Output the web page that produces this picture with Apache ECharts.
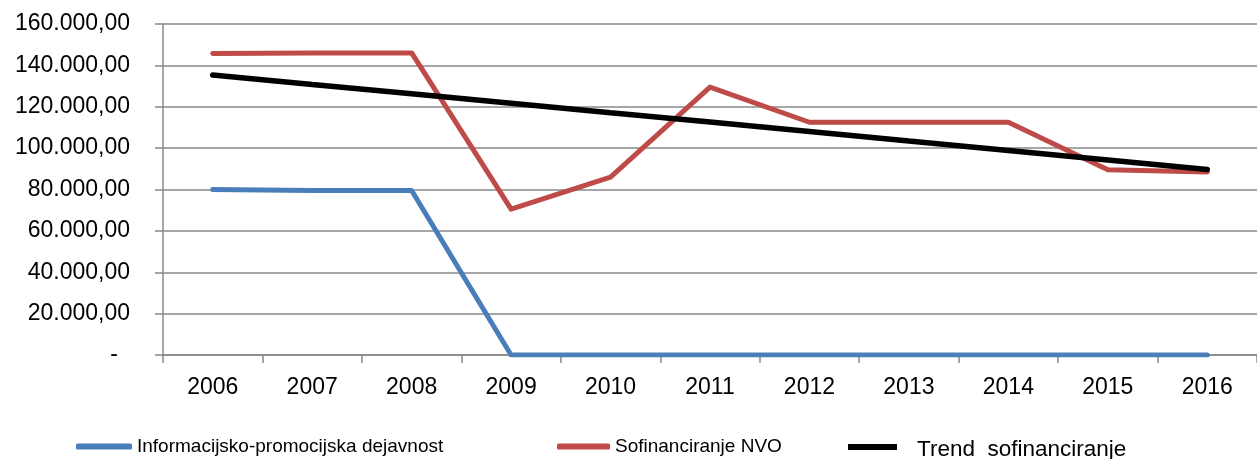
<!DOCTYPE html>
<html>
<head>
<meta charset="utf-8">
<script src="https://cdn.jsdelivr.net/npm/echarts@6/dist/echarts.min.js"></script>
<style>
  html, body { margin: 0; padding: 0; background: #fff; }
  #chart { width: 1257px; height: 459px; }
</style>
</head>
<body>
<div id="chart"></div>
<script>
  // leta
  var years = ['2006', '2007', '2008', '2009', '2010', '2011', '2012', '2013', '2014', '2015', '2016'];
  // Informacijsko-promocijska dejavnost
  var informacijsko = [80000, 79500, 79500, 0, 0, 0, 0, 0, 0, 0, 0];
  // Sofinanciranje NVO
  var sofinanciranje = [145800, 146000, 146000, 70500, 86000, 129500, 112500, 112500, 112500, 89500, 88500];
  // trend (odčitano s slike)
  var trend = [135400, 130800, 126300, 121700, 117100, 112600, 108000, 103400, 98900, 94300, 89700];

  var FONT = 'Liberation Sans';
  var GRAY = '#888888';

  function fmtValue(v) {
    if (v === 0) return '{dash|-}';
    var s = String(Math.round(v));
    s = s.replace(/\B(?=(\d{3})+(?!\d))/g, '.');
    return s + ',00';
  }

  var chart = echarts.init(document.getElementById('chart'));

  var legendBase = {
    orient: 'horizontal',
    top: 437,
    padding: 0,
    icon: 'roundRect',
    itemHeight: 6,
    itemGap: 0,
    textStyle: { fontFamily: FONT, fontSize: 19, color: '#000' }
  };

  var option = {
    animation: false,
    grid: { left: 163, right: 0, top: 24, bottom: 104, containLabel: false },
    legend: [
      Object.assign({}, legendBase, {
        left: 76, itemWidth: 56,
        data: ['Informacijsko-promocijska dejavnost']
      }),
      Object.assign({}, legendBase, {
        left: 557, itemWidth: 53,
        data: ['Sofinanciranje NVO']
      }),
      // trend: znak legende in napis posebej (napis je nižje)
      Object.assign({}, legendBase, {
        left: 848, top: 444, itemWidth: 49, icon: 'rect',
        formatter: function () { return ''; },
        data: ['Trend  sofinanciranje']
      }),
      Object.assign({}, legendBase, {
        left: 912, top: 438, itemWidth: 0, itemHeight: 0,
        textStyle: { fontFamily: FONT, fontSize: 22.5, color: '#000' },
        data: ['Trend  sofinanciranje']
      })
    ],
    xAxis: {
      type: 'category',
      data: years,
      boundaryGap: true,
      axisLine: { lineStyle: { color: GRAY, width: 1.5 } },
      axisTick: { show: true, length: 8, interval: 0, lineStyle: { color: GRAY, width: 1.5 } },
      axisLabel: { margin: 21, fontFamily: FONT, fontSize: 23, color: '#000' },
      splitLine: { show: false }
    },
    yAxis: {
      type: 'value',
      min: 0,
      max: 160000,
      interval: 20000,
      axisLine: { show: true, lineStyle: { color: GRAY, width: 1.5 } },
      axisTick: { show: true, length: 8, lineStyle: { color: GRAY, width: 1.5 } },
      axisLabel: {
        margin: 33,
        fontFamily: FONT,
        fontSize: 23,
        color: '#000',
        formatter: fmtValue,
        rich: { dash: { fontFamily: FONT, fontSize: 23, color: '#000', padding: [0, 12, 0, 0] } }
      },
      splitLine: { show: true, lineStyle: { color: GRAY, width: 1.5 } }
    },
    series: [
      {
        name: 'Informacijsko-promocijska dejavnost',
        type: 'line',
        data: informacijsko,
        showSymbol: false,
        symbol: 'none',
        itemStyle: { color: '#4A7EBB' },
        lineStyle: { color: '#4A7EBB', width: 5, cap: 'round', join: 'round' }
      },
      {
        name: 'Sofinanciranje NVO',
        type: 'line',
        data: sofinanciranje,
        showSymbol: false,
        symbol: 'none',
        itemStyle: { color: '#BE4B48' },
        lineStyle: { color: '#BE4B48', width: 5, cap: 'round', join: 'round' }
      },
      {
        name: 'Trend  sofinanciranje',
        type: 'line',
        data: trend,
        showSymbol: false,
        symbol: 'none',
        itemStyle: { color: '#000' },
        lineStyle: { color: '#000', width: 5.5, cap: 'round' }
      }
    ]
  };

  chart.setOption(option);
</script>
</body>
</html>
